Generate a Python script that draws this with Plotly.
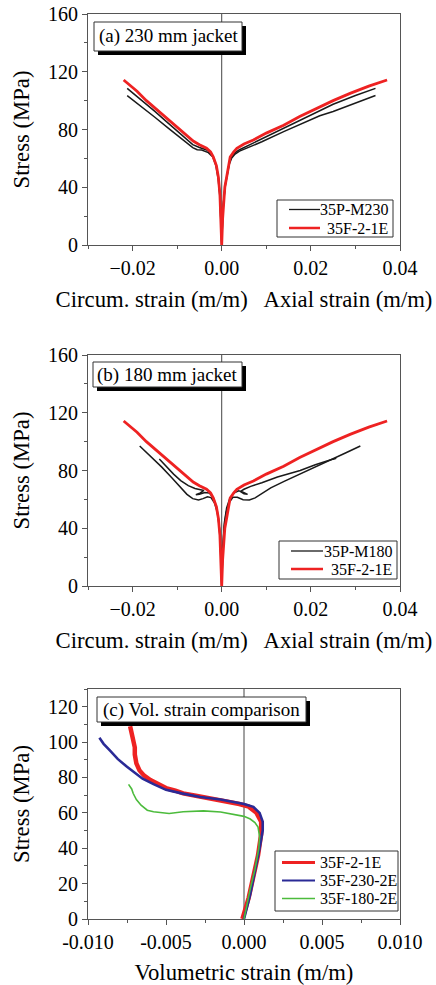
import plotly.graph_objects as go

# ---------------- data ----------------
# 35F-2-1E (used in panels a and b): circumferential branch (negative) and axial branch (positive)
f21e_circ_x = [-0.0220, -0.0190, -0.0169, -0.0145, -0.0124, -0.0100, -0.0080, -0.0064, -0.0050,
               -0.0034, -0.0025, -0.0019, -0.0012, -0.00075, -0.0004, -0.0002, 0.0]
f21e_circ_y = [114.3, 106.5, 100.0, 93.5, 87.8, 81.5, 76.0, 72.0, 69.5,
               67.0, 64.5, 61.0, 55.0, 47.0, 35.0, 20.0, 0.0]
f21e_ax_x = [0.0, 0.0002, 0.0004, 0.0007, 0.0011, 0.0015, 0.0019, 0.0027, 0.0034, 0.0050,
             0.0071, 0.0100, 0.0139, 0.0175, 0.0213, 0.0250, 0.0288, 0.0330, 0.0371]
f21e_ax_y = [0.0, 18.0, 31.0, 40.0, 47.0, 55.0, 61.0, 64.5, 67.0, 70.0,
             72.7, 77.5, 83.0, 89.0, 94.7, 100.0, 105.0, 110.0, 114.3]

# 35P-M230 specimens (panel a)
m230a_circ_x = [-0.0212, -0.0180, -0.0150, -0.0124, -0.0100, -0.0080, -0.0065, -0.0050, -0.0035,
                -0.0025, -0.0018, -0.0012, -0.0007, -0.0004, -0.0002, 0.0]
m230a_circ_y = [108.5, 100.5, 92.5, 85.5, 79.0, 73.5, 69.5, 67.5, 66.0,
                64.0, 60.5, 55.0, 46.0, 35.0, 20.0, 0.0]
m230a_ax_x = [0.0, 0.0002, 0.0004, 0.0008, 0.0012, 0.0017, 0.0022, 0.0030, 0.0040, 0.0060,
              0.0090, 0.0130, 0.0170, 0.0210, 0.0250, 0.0300, 0.0345]
m230a_ax_y = [0.0, 18.0, 30.0, 42.0, 50.0, 57.0, 61.0, 64.0, 66.0, 69.0,
              73.5, 80.0, 86.0, 92.0, 97.5, 103.5, 108.5]
m230b_circ_x = [-0.0212, -0.0180, -0.0150, -0.0120, -0.0100, -0.0080, -0.0065, -0.0055, -0.0045,
                -0.0030, -0.0020, -0.0013, -0.0008, -0.0004, -0.0002, 0.0]
m230b_circ_y = [103.5, 96.0, 88.5, 81.0, 76.0, 71.0, 67.5, 66.0, 65.8,
                64.0, 61.0, 55.0, 46.0, 33.0, 18.0, 0.0]
m230b_ax_x = [0.0, 0.0002, 0.0004, 0.0008, 0.0012, 0.0017, 0.0022, 0.0030, 0.0040, 0.0060,
              0.0090, 0.0139, 0.0180, 0.0220, 0.0250, 0.0300, 0.0345]
m230b_ax_y = [0.0, 17.0, 29.0, 41.0, 49.0, 56.0, 60.0, 63.0, 65.0, 67.5,
              71.5, 78.5, 84.0, 89.5, 92.5, 98.0, 103.5]

# 35P-M180 specimens (panel b)
m180a_circ_x = [-0.0184, -0.0160, -0.0135, -0.0112, -0.0092, -0.0078, -0.0065, -0.0052, -0.0042,
                -0.0032, -0.0024, -0.0016, -0.0010, -0.0005, -0.0002, 0.0]
m180a_circ_y = [97.0, 90.0, 82.5, 75.0, 68.5, 63.5, 60.5, 59.6, 60.5,
                61.8, 61.2, 57.5, 51.0, 40.0, 22.0, 0.0]
m180a_ax_x = [0.0, 0.0002, 0.0005, 0.0010, 0.0016, 0.0025, 0.0035, 0.0048, 0.0062, 0.0075,
              0.0090, 0.0110, 0.0140, 0.0176, 0.0210, 0.0250, 0.0280, 0.0311]
m180a_ax_y = [0.0, 22.0, 40.0, 51.0, 57.5, 61.5, 61.5, 59.8, 59.6, 61.0,
              64.0, 68.0, 72.5, 77.5, 82.5, 88.0, 92.5, 97.0]
m180b_circ_x = [-0.0140, -0.0125, -0.0108, -0.0092, -0.0075, -0.0060, -0.0048, -0.0040, -0.0048,
                -0.0058, -0.0050, -0.0038, -0.0028, -0.0018, -0.0011, -0.0006, -0.0003, 0.0]
m180b_circ_y = [88.0, 83.0, 77.5, 73.0, 69.5, 67.5, 66.5, 66.2, 64.5,
                63.2, 63.5, 64.8, 64.5, 60.5, 54.0, 44.0, 28.0, 0.0]
m180b_ax_x = [0.0, 0.0003, 0.0006, 0.0011, 0.0018, 0.0028, 0.0038, 0.0048, 0.0058, 0.0050,
              0.0042, 0.0050, 0.0065, 0.0090, 0.0125, 0.0176, 0.0210, 0.0245, 0.0257, 0.0250]
m180b_ax_y = [0.0, 28.0, 44.0, 54.0, 60.5, 64.5, 66.0, 65.0, 63.5, 63.8,
              65.5, 67.0, 69.0, 71.5, 75.5, 80.0, 84.0, 87.5, 88.5, 87.8]

# Panel c: volumetric strain
vol_f21e_x = [-0.0073, -0.0072, -0.0071, -0.0070, -0.0070, -0.0069, -0.0067, -0.0064, -0.0060,
              -0.0055, -0.0050, -0.0044, -0.0039, -0.0030, -0.0018, -0.0008, -0.0003, 0.0003,
              0.0008, 0.0011, 0.0011, 0.0009, 0.0006, 0.0003, -0.0001]
vol_f21e_y = [109.0, 104.5, 100.0, 97.0, 93.0, 88.0, 84.0, 81.0, 78.5,
              76.0, 74.0, 72.5, 71.0, 69.5, 67.5, 66.0, 65.0, 63.5,
              60.0, 55.0, 48.0, 36.0, 24.0, 12.0, 0.0]
vol_f230_x = [-0.00927, -0.0090, -0.0086, -0.0081, -0.0075, -0.0070, -0.0065, -0.0058, -0.0050,
              -0.0040, -0.0028, -0.0015, -0.0007, 0.0, 0.0006, 0.0010, 0.0012, 0.0012,
              0.0010, 0.0007, 0.0004, 0.0]
vol_f230_y = [102.4, 99.0, 95.3, 90.5, 86.0, 82.5, 79.3, 76.2, 73.0,
              71.0, 69.0, 67.5, 66.2, 65.0, 63.4, 60.0, 55.0, 50.0,
              40.0, 27.0, 14.0, 0.0]
vol_f180_x = [-0.0074, -0.0072, -0.0071, -0.0069, -0.0066, -0.0062, -0.0058, -0.0053, -0.0048,
              -0.0039, -0.0026, -0.0015, -0.0009, -0.0004, 0.0, 0.0004, 0.0007, 0.0009,
              0.0010, 0.00095, 0.0007, 0.0004, 0.0002, 0.0]
vol_f180_y = [76.1, 73.5, 70.9, 67.5, 64.3, 61.5, 60.6, 60.0, 59.6,
              60.6, 61.1, 60.5, 59.6, 58.8, 58.0, 56.5, 54.5, 52.0,
              46.5, 40.0, 28.0, 17.0, 8.0, 0.0]

# tick labels for panel c (hyphen minus as in the original)
vol_tickvals = [-0.010, -0.005, 0.0, 0.005, 0.010]
vol_ticktext = ["-0.010", "-0.005", "0.000", "0.005", "0.010"]

panel_titles = ["(a) 230 mm jacket", "(b) 180 mm jacket", "(c) Vol. strain comparison"]
legend_a_names = ["35P-M230", "35F-2-1E"]
legend_b_names = ["35P-M180", "35F-2-1E"]
legend_c_names = ["35F-2-1E", "35F-230-2E", "35F-180-2E"]

# ---------------- figure ----------------
W, H = 436, 985
RED = "#ee2222"
BLACK = "#1a1a1a"
BLUE = "#2a2a96"
GREEN = "#4cbb3c"
FRAME = "#555555"
FONT = "Liberation Serif"
TITLE_SIZE = 22.7


def px(x):
    return x / W


def py(y):
    return 1 - y / H


def join(cx, cy, ax, ay):
    return list(cx) + list(ax), list(cy) + list(ay)


fig = go.Figure()

# panel a
for cx, cy, ax, ay in [(m230a_circ_x, m230a_circ_y, m230a_ax_x, m230a_ax_y),
                       (m230b_circ_x, m230b_circ_y, m230b_ax_x, m230b_ax_y)]:
    xs, ys = join(cx, cy, ax, ay)
    fig.add_trace(go.Scatter(x=xs, y=ys, mode="lines", name=legend_a_names[0],
                             line=dict(color=BLACK, width=1.5), xaxis="x", yaxis="y"))
xs, ys = join(f21e_circ_x, f21e_circ_y, f21e_ax_x, f21e_ax_y)
fig.add_trace(go.Scatter(x=xs, y=ys, mode="lines", name=legend_a_names[1],
                         line=dict(color=RED, width=2.8), xaxis="x", yaxis="y"))

# panel b
for cx, cy, ax, ay in [(m180a_circ_x, m180a_circ_y, m180a_ax_x, m180a_ax_y),
                       (m180b_circ_x, m180b_circ_y, m180b_ax_x, m180b_ax_y)]:
    xs, ys = join(cx, cy, ax, ay)
    fig.add_trace(go.Scatter(x=xs, y=ys, mode="lines", name=legend_b_names[0],
                             line=dict(color=BLACK, width=1.5), xaxis="x2", yaxis="y2"))
xs, ys = join(f21e_circ_x, f21e_circ_y, f21e_ax_x, f21e_ax_y)
fig.add_trace(go.Scatter(x=xs, y=ys, mode="lines", name=legend_b_names[1],
                         line=dict(color=RED, width=2.8), xaxis="x2", yaxis="y2"))

# panel c
fig.add_trace(go.Scatter(x=vol_f21e_x, y=vol_f21e_y, mode="lines", name=legend_c_names[0],
                         line=dict(color=RED, width=4.5), xaxis="x3", yaxis="y3"))
fig.add_trace(go.Scatter(x=vol_f230_x, y=vol_f230_y, mode="lines", name=legend_c_names[1],
                         line=dict(color=BLUE, width=2.6), xaxis="x3", yaxis="y3"))
fig.add_trace(go.Scatter(x=vol_f180_x, y=vol_f180_y, mode="lines", name=legend_c_names[2],
                         line=dict(color=GREEN, width=1.6), xaxis="x3", yaxis="y3"))

xdom = [px(88), px(400)]
ydoms = [[py(245), py(14)], [py(586), py(355)], [py(919), py(689)]]

common_axis = dict(showline=True, linecolor=FRAME, linewidth=1, mirror=True, ticks="outside",
                   ticklen=5, tickwidth=1, tickcolor=FRAME, showgrid=False, zeroline=False,
                   automargin=False, tickfont=dict(size=20, family=FONT, color="black"))

strain_title = "Circum. strain (m/m)   Axial strain (m/m)"
layout_axes = {}
for k, suffix in enumerate(["", "2", "3"]):
    xa = dict(common_axis, domain=xdom, anchor="y" + suffix)
    ya = dict(common_axis, domain=ydoms[k], anchor="x" + suffix)
    if k < 2:
        xa.update(range=[-0.03, 0.04], dtick=0.02, tick0=0, tickformat=".2f",
                  minor=dict(dtick=0.01, ticks="outside", ticklen=3, tickcolor=FRAME),
                  title=dict(text=strain_title, font=dict(size=TITLE_SIZE, family=FONT), standoff=13))
        ya.update(range=[0, 160], dtick=40, tick0=0,
                  minor=dict(dtick=20, ticks="outside", ticklen=3, tickcolor=FRAME),
                  title=dict(text="Stress (MPa)", font=dict(size=TITLE_SIZE, family=FONT), standoff=12))
    else:
        xa.update(range=[-0.010, 0.010], tickvals=vol_tickvals, ticktext=vol_ticktext,
                  minor=dict(dtick=0.0025, ticks="outside", ticklen=3, tickcolor=FRAME),
                  title=dict(text="Volumetric strain (m/m)", font=dict(size=TITLE_SIZE, family=FONT),
                             standoff=14))
        ya.update(range=[0, 130], dtick=20, tick0=0,
                  minor=dict(dtick=10, ticks="outside", ticklen=3, tickcolor=FRAME),
                  title=dict(text="Stress (MPa)", font=dict(size=TITLE_SIZE, family=FONT), standoff=12))
    layout_axes["xaxis" + suffix] = xa
    layout_axes["yaxis" + suffix] = ya

fig.update_layout(
    width=W, height=H, margin=dict(l=0, r=0, t=0, b=0),
    paper_bgcolor="white", plot_bgcolor="white",
    font=dict(family=FONT, size=20, color="black"),
    showlegend=False,
    **layout_axes,
)

# vertical zero lines
for suffix in ["", "2", "3"]:
    fig.add_shape(type="line", xref="x" + suffix, yref=("y" + suffix) + " domain",
                  x0=0, x1=0, y0=0, y1=1, line=dict(color="#444444", width=1), layer="below")

# panel title boxes with drop shadow
boxes = [(94, 22, 242, 51), (93, 362, 242, 387), (97, 697, 306, 722)]
for (x0, y0, x1, y1), text in zip(boxes, panel_titles):
    fig.add_shape(type="rect", xref="paper", yref="paper", x0=px(x0 + 4), x1=px(x1 + 4),
                  y0=py(y1 + 4), y1=py(y0 + 4), fillcolor="black", line=dict(width=0))
    fig.add_shape(type="rect", xref="paper", yref="paper", x0=px(x0), x1=px(x1),
                  y0=py(y1), y1=py(y0), fillcolor="white", line=dict(color="#333333", width=1))
    fig.add_annotation(xref="paper", yref="paper", x=px((x0 + x1) / 2), y=py((y0 + y1) / 2),
                       text=text, showarrow=False, xanchor="center", yanchor="middle",
                       font=dict(size=19, family=FONT, color="black"))

# legends (drawn as boxes with sample lines and labels)
legend_specs = [
    ((277, 200, 393, 237), (289, 320), [(209.5, BLACK, 1.3, legend_a_names[0]),
                                        (228, RED, 2.5, legend_a_names[1])], 390, "right"),
    ((279, 541, 397, 579), (291, 323), [(551, BLACK, 1.3, legend_b_names[0]),
                                        (569, RED, 2.5, legend_b_names[1])], 394, "right"),
    ((275, 851, 398, 911), (282, 315), [(862.5, RED, 3.0, legend_c_names[0]),
                                        (880.5, BLUE, 2.0, legend_c_names[1]),
                                        (898.5, GREEN, 1.5, legend_c_names[2])], 318, "left"),
]
for (bx0, by0, bx1, by1), (lx0, lx1), rows, tx, side in legend_specs:
    fig.add_shape(type="rect", xref="paper", yref="paper", x0=px(bx0), x1=px(bx1),
                  y0=py(by1), y1=py(by0), fillcolor="white", line=dict(color="#333333", width=1))
    for yy, col, lw, name in rows:
        fig.add_shape(type="line", xref="paper", yref="paper", x0=px(lx0), x1=px(lx1),
                      y0=py(yy), y1=py(yy), line=dict(color=col, width=lw))
        fig.add_annotation(xref="paper", yref="paper", x=px(tx), y=py(yy), text=name,
                           showarrow=False, xanchor=side, yanchor="middle",
                           font=dict(size=16, family=FONT, color="black"))

fig.write_html("out.html", post_script="document.body.style.margin='0';",
               config={"displayModeBar": False})
